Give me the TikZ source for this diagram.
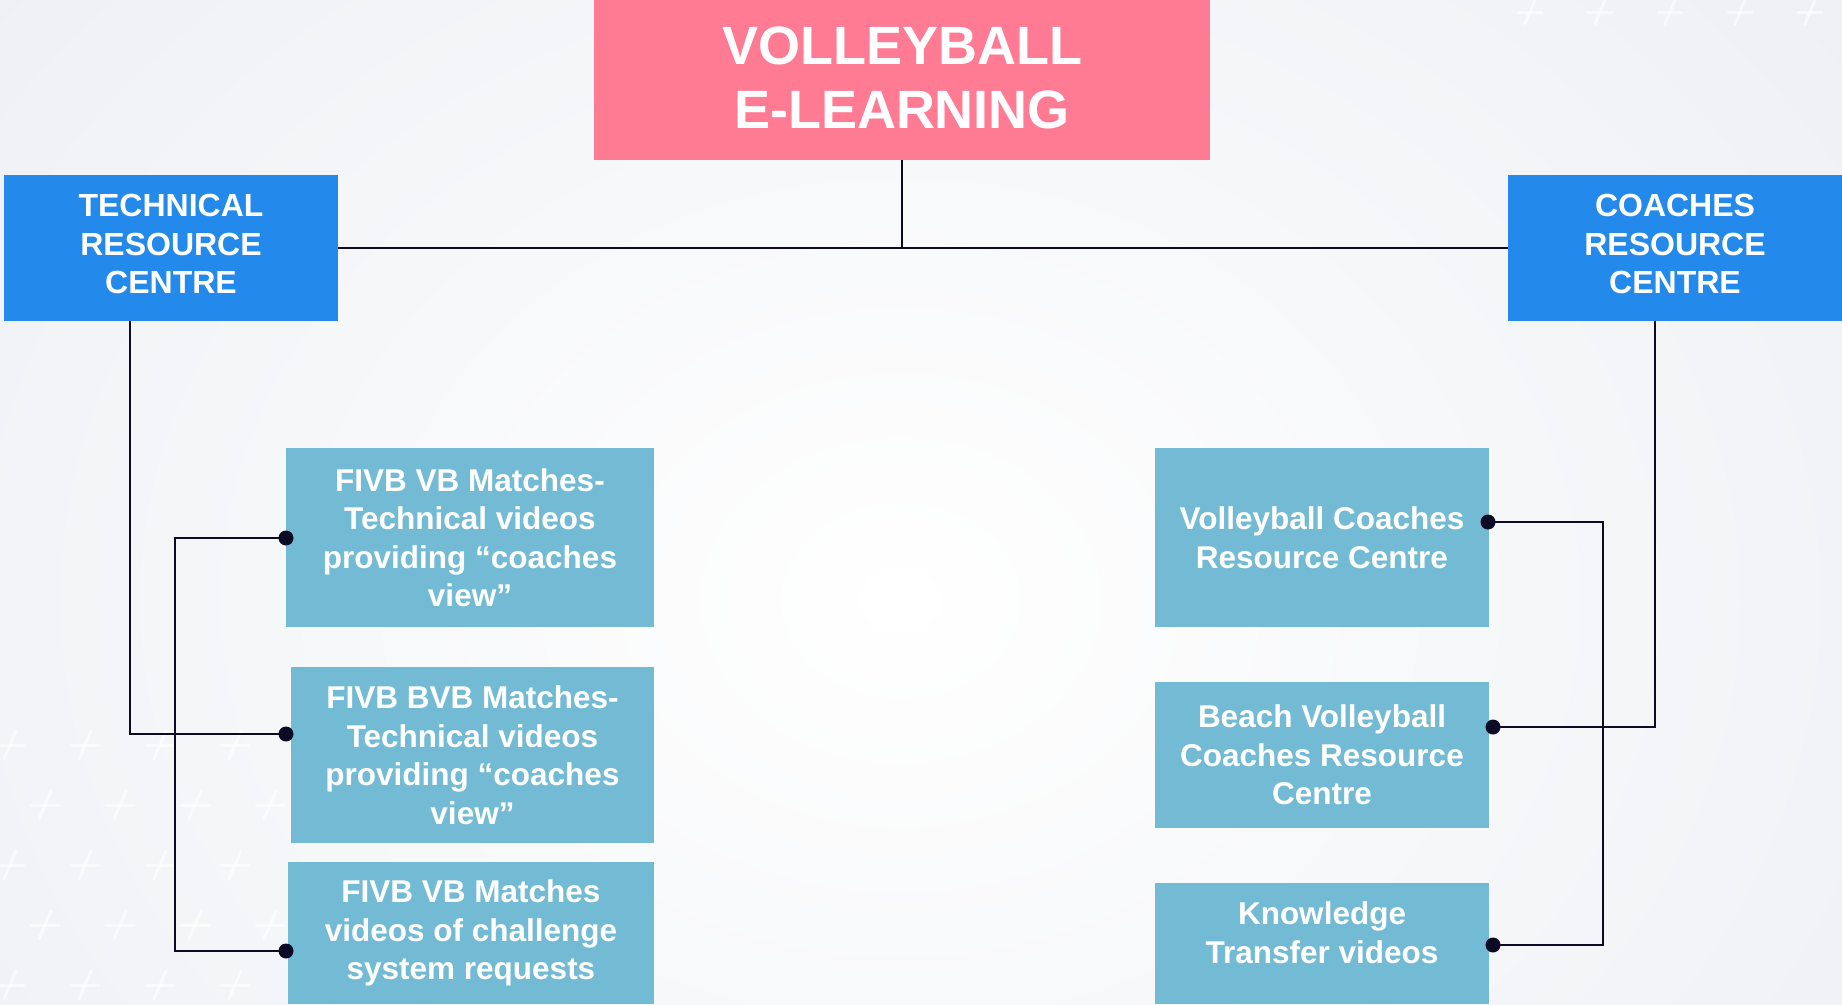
\documentclass[tikz,border=0pt]{standalone}
\usepackage{fontspec}
\setmainfont{Liberation Sans}
\definecolor{pinkc}{HTML}{FF7A93}
\definecolor{bluec}{HTML}{2389EB}
\definecolor{lightc}{HTML}{73BBD4}
\definecolor{linec}{HTML}{0B0B26}
\definecolor{bgout}{HTML}{E8EBF0}
\begin{document}
\begin{tikzpicture}[x=1pt,y=-1pt,
  basebox/.style={inner sep=0pt, outer sep=0pt, align=center, text=white, font=\bfseries},
  pinktext/.style={basebox, font=\bfseries\fontsize{54}{64}\selectfont},
  bluetext/.style={basebox, font=\bfseries\fontsize{32}{38.5}\selectfont},
  lightbox/.style={basebox, fill=lightc, font=\bfseries\fontsize{31.5}{38.5}\selectfont},
  lighttext/.style={basebox, font=\bfseries\fontsize{31.5}{38.5}\selectfont},
  conn/.style={draw=linec, line width=2.8pt},
  dotc/.style={fill=linec},
  plusmark/.style={draw=white, line width=3pt, opacity=0.6, line cap=round}
]
\useasboundingbox (0,0) rectangle (1842,1004);
\fill[bgout] (0,0) rectangle (1842,1004);
\shade[inner color=white, outer color=bgout] (-700,-700) rectangle (2500,1900);
% faint plus marks
\foreach \yy/\xo in {745/0, 805/35, 865/0, 925/35, 985/0}{
  \foreach \xx in {10,85,160,235}{
    \draw[plusmark] (\xx+\xo-14,\yy) -- (\xx+\xo+14,\yy);
    \draw[plusmark] (\xx+\xo-6,\yy+14) -- (\xx+\xo+6,\yy-14);
  }
}
\foreach \xx in {1530,1600,1670,1740,1810}{
  \draw[plusmark] (\xx-12,12) -- (\xx+12,12);
  \draw[plusmark] (\xx-5,24) -- (\xx+5,0);
}

% nodes
\node[basebox, fill=pinkc, minimum width=616pt, minimum height=160pt] (top) at (902,80) {};
\node[pinktext] (topt) at ([yshift=2pt]top.center) {VOLLEYBALL\\E-LEARNING};
\node[basebox, fill=bluec, minimum width=334pt, minimum height=146pt] (tech) at (171,248) {};
\node[bluetext] (techt) at ([yshift=4pt]tech.center) {TECHNICAL\\RESOURCE\\CENTRE};
\node[basebox, fill=bluec, minimum width=334pt, minimum height=146pt] (coach) at (1675,248) {};
\node[bluetext] (coacht) at ([yshift=4pt]coach.center) {COACHES\\RESOURCE\\CENTRE};

\node[lightbox, minimum width=368pt, minimum height=179pt] (l1) at (470,537.5) {FIVB VB Matches-\\Technical videos\\providing “coaches\\view”};
\node[lightbox, minimum width=363pt, minimum height=176pt] (l2) at (472.5,755) {FIVB BVB Matches-\\Technical videos\\providing “coaches\\view”};
\node[lightbox, minimum width=366pt, minimum height=142pt] (l3) at (471,933) {FIVB VB Matches\\videos of challenge\\system requests};

\node[lightbox, minimum width=334pt, minimum height=179pt] (r1) at (1322,537.5) {Volleyball Coaches\\Resource Centre};
\node[lightbox, minimum width=334pt, minimum height=146pt] (r2) at (1322,755) {Beach Volleyball\\Coaches Resource\\Centre};
\node[fill=lightc, inner sep=0pt, minimum width=334pt, minimum height=121pt] (r3) at (1322,943.5) {};
\node[lighttext] (r3t) at ([yshift=11pt]r3.center) {Knowledge\\Transfer videos};

% connector points
\coordinate (techdrop) at (130,321);
\coordinate (coachdrop) at (1655,321);
\coordinate (dL1) at (286,538);
\coordinate (dL2) at (286,734);
\coordinate (dL3) at (286,951);
\coordinate (dR1) at (1488,522);
\coordinate (dR2) at (1493,727);
\coordinate (dR3) at (1493,945);

% connectors
\draw[conn] (top.south) -- (top.south |- tech.east);
\draw[conn] (tech.east) -- (coach.west);
\draw[conn] (techdrop) |- (dL2);
\draw[conn] (dL1) -- ++(-111,0) |- (dL3);
\draw[conn] (coachdrop) |- (dR2);
\draw[conn] (dR1) -- ++(115,0) |- (dR3);

\foreach \d in {dL1,dL2,dL3,dR1,dR2,dR3}{
  \fill[dotc] (\d) circle (7.5pt);
}
\end{tikzpicture}
\end{document}
